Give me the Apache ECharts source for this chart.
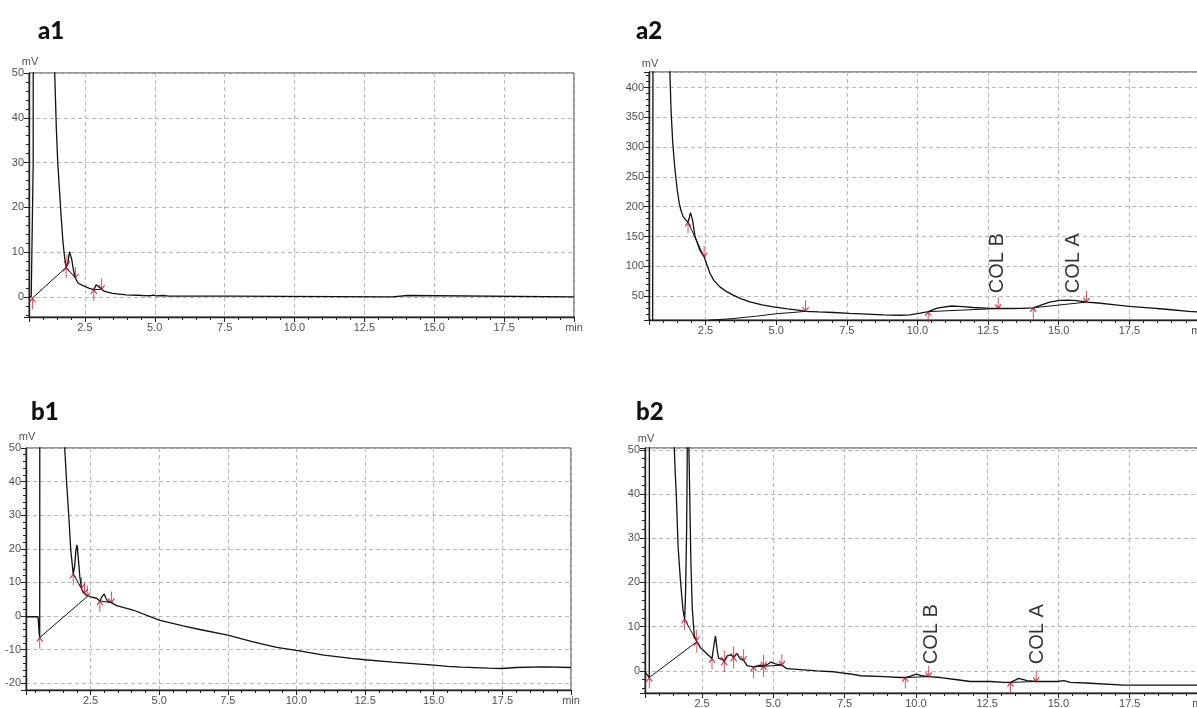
<!DOCTYPE html>
<html>
<head>
<meta charset="utf-8">
<title>Chromatograms a1 a2 b1 b2</title>
<script src="https://cdn.jsdelivr.net/npm/echarts@6.0.0/dist/echarts.min.js"></script>
<style>
  html, body { margin: 0; padding: 0; background: #fff; }
  #chart { width: 1197px; height: 708px; }
</style>
</head>
<body>
<div id="chart"></div>
<script>
// panel names
const panelTitles = ['a1', 'a2', 'b1', 'b2']

// ---- a1 : [min, mV] ----
const a1Trace = [[0.5, 0.1], [0.58, 0], [0.62, -0.3], [0.65, 30], [0.66, 300], [1.3, 300], [1.38, 70], [1.42, 50],
  [1.48, 37.3], [1.53, 29.8], [1.59, 23.9], [1.65, 17.9], [1.71, 12.7], [1.77, 9], [1.83, 6.6], [1.89, 7.5],
  [1.95, 10.1], [1.99, 10.5], [2.03, 8.3], [2.09, 6], [2.16, 4.2], [2.25, 3.1], [2.43, 2.5], [2.66, 1.9],
  [2.82, 1.6], [2.9, 2.7], [2.97, 2.9], [3.06, 1.9], [3.2, 1.2], [3.5, 0.8], [3.97, 0.45], [4.56, 0.3],
  [4.85, 0.25], [4.95, 0.4], [5.05, 0.2], [5.3, 0.3], [5.5, 0.15], [7.7, 0.15], [7.75, 0], [13.5, 0],
  [13.55, 0.3], [14.05, 0.3], [14.1, 0], [20, 0]]
const a1Starts = [[0.62, -0.3], [1.83, 6.6], [2.82, 1.6]]
const a1Ends = [[1.86, 7], [2.16, 4.2], [3.1, 1.7]]
const a1Baselines = [
  [[0.62, -0.3], [1.83, 6.6]],
  [[1.83, 6.6], [2.16, 4.2]],
  [[2.82, 1.6], [3.1, 1.7]]
]

// ---- a2 ----
const a2Trace = [[0.5, 5], [0.63, 5], [0.65, 900], [1.15, 900], [1.24, 426], [1.28, 362], [1.34, 307], [1.42, 262],
  [1.5, 228], [1.57, 206], [1.63, 194], [1.71, 183], [1.8, 178], [1.88, 174], [1.93, 182], [1.97, 190],
  [2.04, 178], [2.13, 150], [2.3, 127], [2.45, 116], [2.66, 88], [2.8, 76], [3.01, 65.6], [3.25, 57.5],
  [3.48, 51.7], [3.75, 46], [4.07, 40.5], [4.5, 35.5], [4.9, 32], [5.4, 28.5], [5.84, 26], [6.04, 24.5],
  [6.5, 23.5], [7.02, 22.6], [7.6, 21], [8.2, 20], [8.8, 18.5], [9.38, 18], [9.73, 18.6], [10.1, 21.5],
  [10.38, 24], [10.7, 30], [11.2, 33.5], [11.6, 32.5], [11.97, 31], [12.56, 29.5], [12.86, 29.3], [13.3, 29.3],
  [13.74, 29.5], [14.1, 30.5], [14.4, 35.5], [14.68, 40], [15.04, 43], [15.3, 43.5], [15.63, 42.5], [15.98, 40],
  [16.4, 38.5], [17.0, 35.5], [17.5, 33], [18.2, 30.5], [18.8, 28], [19.6, 24.5], [20, 23.5]]
const a2Starts = [[1.88, 174], [10.38, 24], [14.1, 30.5]]
const a2Ends = [[2.45, 116], [6.04, 24.5], [12.86, 29.3], [15.98, 40]]
const a2Baselines = [
  [[2.3, 8], [2.66, 9.7], [3.5, 12.5], [4.3, 16.4], [5.1, 21], [5.6, 22.6], [6.04, 24.5]],
  [[1.88, 174], [2.45, 116]],
  [[10.38, 24], [12.86, 29.3]],
  [[14.1, 30.5], [15.98, 40]]
]
const a2Names = [['COL B', 12.85, 55], ['COL A', 15.53, 55]]

// ---- b1 ----
const b1Trace = [[0.15, -0.2], [0.59, -0.2], [0.63, -5.2], [0.65, -6.4], [0.66, 300], [1.42, 300], [1.5, 80],
  [1.56, 50], [1.63, 39.6], [1.71, 29.6], [1.78, 19.7], [1.87, 12.5], [1.92, 14.7], [1.97, 19.7], [2.01, 21.2],
  [2.06, 16.7], [2.11, 11.7], [2.17, 8.3], [2.23, 7.1], [2.33, 6.3], [2.38, 5.8], [2.54, 5.6], [2.72, 5.3],
  [2.84, 4.5], [2.92, 5.8], [3.0, 6.6], [3.06, 5.3], [3.14, 4.3], [3.26, 4.0], [3.45, 3.1], [4.05, 1.8],
  [5.0, -1.2], [5.87, -2.9], [6.48, -4.0], [7.5, -5.7], [8.42, -7.7], [9.28, -9.3], [10.0, -10.2],
  [11.0, -11.6], [12.0, -12.6], [12.5, -13.0], [13.5, -13.7], [14.5, -14.3], [15.0, -14.6], [15.5, -15.0],
  [16.0, -15.2], [17.0, -15.5], [17.5, -15.6], [18.0, -15.3], [19.0, -15.1], [20.0, -15.3]]
const b1Starts = [[0.65, -6.4], [1.87, 12.5], [2.84, 4.5]]
const b1Ends = [[2.17, 8.3], [2.28, 6.8], [2.38, 5.8], [3.26, 4.0]]
const b1Baselines = [
  [[0.65, -6.4], [2.38, 5.8]],
  [[1.87, 12.5], [2.17, 8.3]],
  [[2.84, 4.5], [3.26, 4.0]]
]

// ---- b2 ----
const b2Trace = [[0.5, -0.2], [0.57, -0.4], [0.65, -1.5], [0.67, 300], [1.4, 300], [1.48, 80], [1.53, 50],
  [1.56, 44.8], [1.6, 39.5], [1.66, 28.2], [1.74, 20.7], [1.83, 13.9], [1.89, 11.7], [1.92, 17], [1.96, 32],
  [1.98, 47], [2.0, 150], [2.02, 150], [2.04, 50], [2.07, 39.5], [2.11, 24.4], [2.16, 13.9], [2.23, 7.9],
  [2.32, 6.6], [2.44, 5.3], [2.68, 3.8], [2.85, 2.8], [2.93, 6.3], [2.97, 7.9], [3.03, 4.8], [3.08, 2.9],
  [3.2, 2.6], [3.28, 2.2], [3.38, 3.4], [3.52, 3.6], [3.61, 3.1], [3.73, 3.9], [3.84, 2.7], [3.96, 2.4],
  [4.08, 1.2], [4.31, 0.9], [4.55, 1.3], [4.66, 1.1], [4.78, 1.4], [4.92, 2.0], [5.07, 1.6], [5.3, 1.3],
  [5.48, 0.5], [5.95, 0.3], [6.53, 0.0], [7.12, -0.2], [7.7, -0.7], [8.06, -1.1], [8.87, -1.3], [9.46, -1.5],
  [9.63, -1.5], [9.81, -1.2], [10.02, -0.75], [10.22, -1.1], [10.45, -1.3], [10.86, -1.5], [11.45, -2.0],
  [11.91, -2.4], [12.62, -2.4], [13.08, -2.6], [13.32, -2.6], [13.61, -1.7], [13.9, -2.2], [14.22, -2.4],
  [14.96, -2.4], [15.19, -2.2], [15.42, -2.6], [16.12, -2.8], [17.29, -3.2], [20, -3.2]]
const b2Starts = [[0.65, -1.5], [1.89, 11.7], [2.32, 6.6], [2.85, 2.8], [3.28, 2.2], [3.61, 3.1], [4.31, 0.9],
  [4.66, 1.1], [9.63, -1.5], [13.32, -2.6]]
const b2Ends = [[2.3, 6.8], [3.28, 2.2], [3.61, 3.1], [3.96, 2.4], [4.66, 1.1], [5.3, 1.3], [10.45, -1.3], [14.22, -2.4]]
const b2Baselines = [
  [[0.65, -1.5], [2.32, 6.6]],
  [[1.89, 11.7], [2.3, 6.8]],
  [[4.31, 0.9], [5.3, 1.3]],
  [[9.63, -1.5], [10.45, -1.3]],
  [[13.32, -2.6], [14.22, -2.4]]
]
const b2Names = [['COL B', 10.55, 1.5], ['COL A', 14.28, 1.5]]

// layout of the four plots (pixels) and their axis ranges
const panels = [
  { title: panelTitles[0], titlePos: [38, 19], box: { left: 29, top: 73, width: 545, height: 244 },
    x: [0.5, 20], y: [-4.5, 50], yStep: 10, yMinor: 2,
    trace: a1Trace, baselines: a1Baselines, starts: a1Starts, ends: a1Ends, names: [] },
  { title: panelTitles[1], titlePos: [636, 19], box: { left: 649, top: 72, width: 551, height: 248 },
    x: [0.5, 20], y: [10, 426], yStep: 50, yMinor: 10,
    trace: a2Trace, baselines: a2Baselines, starts: a2Starts, ends: a2Ends, names: a2Names },
  { title: panelTitles[2], titlePos: [31, 400], box: { left: 26, top: 448, width: 545, height: 242 },
    x: [0.15, 20], y: [-22, 50], yStep: 10, yMinor: 2,
    trace: b1Trace, baselines: b1Baselines, starts: b1Starts, ends: b1Ends, names: [] },
  { title: panelTitles[3], titlePos: [636, 400], box: { left: 645, top: 448, width: 556, height: 245 },
    x: [0.5, 20], y: [-5, 50.4], yStep: 10, yMinor: 2,
    trace: b2Trace, baselines: b2Baselines, starts: b2Starts, ends: b2Ends, names: b2Names }
]

const ink = '#111'
const markRed = '#b01228'
const gridGray = '#b8b8b8'
const labelFont = 'Liberation Sans'
// peak start / end arrows
const upArrow = 'path://M5,0L5,16M1,6L5,0L9,6'
const downArrow = 'path://M5,16L5,0M1,10L5,16L9,10'

function isStep (v, step) {
  return Math.abs(v / step - Math.round(v / step)) < 1e-6
}

const chart = echarts.init(document.getElementById('chart'))
const option = { animation: false, title: [], grid: [], xAxis: [], yAxis: [], series: [] }

panels.forEach((p, i) => {
  option.title.push({
    text: p.title, left: p.titlePos[0], top: p.titlePos[1], padding: 0,
    textStyle: { fontFamily: 'Lato', fontWeight: 900, fontSize: 24, color: '#111' }
  })
  option.grid.push(Object.assign({
    show: true, borderColor: '#333', borderWidth: 1, backgroundColor: 'transparent',
    containLabel: false, outerBoundsMode: 'none'
  }, p.box))

  // main x axis: labels every 2.5 min, last one reads "min"
  option.xAxis.push({
    type: 'value', gridIndex: i, position: 'bottom', min: p.x[0], max: p.x[1],
    minInterval: 2.5, maxInterval: 2.5,
    axisLine: { onZero: false, lineStyle: { color: '#222', width: 1.4 } },
    axisTick: { length: 5, lineStyle: { color: '#222' } },
    axisLabel: {
      margin: 5, fontSize: 11, fontFamily: labelFont, color: '#505050',
      formatter: v => Math.abs(v - 20) < 1e-6 ? 'min' : (isStep(v, 2.5) ? v.toFixed(1) : '')
    },
    splitLine: { show: true, lineStyle: { color: gridGray, type: [4, 3], width: 1 } }
  })
  // minor x ticks every 0.5
  option.xAxis.push({
    type: 'value', gridIndex: i, position: 'bottom', min: p.x[0], max: p.x[1],
    minInterval: 0.5, maxInterval: 0.5,
    axisLine: { show: false, onZero: false },
    axisTick: { length: 3, lineStyle: { color: '#222' } },
    axisLabel: { show: false }, splitLine: { show: false }
  })
  option.yAxis.push({
    type: 'value', gridIndex: i, position: 'left', min: p.y[0], max: p.y[1],
    minInterval: p.yStep, maxInterval: p.yStep,
    name: 'mV', nameLocation: 'end', nameGap: 3,
    nameTextStyle: { fontSize: 11, fontFamily: labelFont, color: '#505050', align: 'center', verticalAlign: 'bottom', padding: [0, 0, 0, 2] },
    axisLine: { onZero: false, lineStyle: { color: '#222', width: 1.4 } },
    axisTick: { length: 5, lineStyle: { color: '#222' } },
    axisLabel: {
      margin: 5, fontSize: 11, fontFamily: labelFont, color: '#505050',
      formatter: v => isStep(v, p.yStep) ? String(Math.round(v)) : ''
    },
    splitLine: { show: true, lineStyle: { color: gridGray, type: [4, 3], width: 1 } }
  })
  option.yAxis.push({
    type: 'value', gridIndex: i, position: 'left', min: p.y[0], max: p.y[1],
    minInterval: p.yMinor, maxInterval: p.yMinor,
    axisLine: { show: false, onZero: false },
    axisTick: { length: 3, lineStyle: { color: '#222' } },
    axisLabel: { show: false }, splitLine: { show: false }
  })

  const xi = 2 * i
  const yi = 2 * i
  // detector signal
  option.series.push({
    type: 'line', xAxisIndex: xi, yAxisIndex: yi, data: p.trace, symbol: 'none', clip: true, z: 3,
    silent: true, lineStyle: { color: ink, width: 1.3 }
  })
  // integration baselines
  p.baselines.forEach(seg => {
    option.series.push({
      type: 'line', xAxisIndex: xi, yAxisIndex: yi, data: seg, symbol: 'none', clip: true, z: 3,
      silent: true, lineStyle: { color: ink, width: 1 }
    })
  })
  // peak start / end marks
  option.series.push({
    type: 'scatter', xAxisIndex: xi, yAxisIndex: yi, data: p.starts, symbol: upArrow,
    symbolSize: [6, 11], symbolOffset: [0, 5.5], z: 4, silent: true,
    itemStyle: { color: 'rgba(0,0,0,0)', borderColor: markRed, borderWidth: 1.2 }
  })
  option.series.push({
    type: 'scatter', xAxisIndex: xi, yAxisIndex: yi, data: p.ends, symbol: downArrow,
    symbolSize: [6, 11], symbolOffset: [0, -5.5], z: 4, silent: true,
    itemStyle: { color: 'rgba(0,0,0,0)', borderColor: markRed, borderWidth: 1.2 }
  })
  // peak names, written upward
  if (p.names.length) {
    option.series.push({
      type: 'scatter', xAxisIndex: xi, yAxisIndex: yi, symbolSize: 1, z: 5, silent: true,
      itemStyle: { color: 'rgba(0,0,0,0)' },
      data: p.names.map(n => ({ name: n[0], value: [n[1], n[2]] })),
      label: {
        show: true, formatter: '{b}', position: 'inside', align: 'left', verticalAlign: 'middle',
        rotate: 90, fontSize: 20, fontFamily: labelFont, color: '#000'
      }
    })
  }
})

chart.setOption(option)
</script>
</body>
</html>
